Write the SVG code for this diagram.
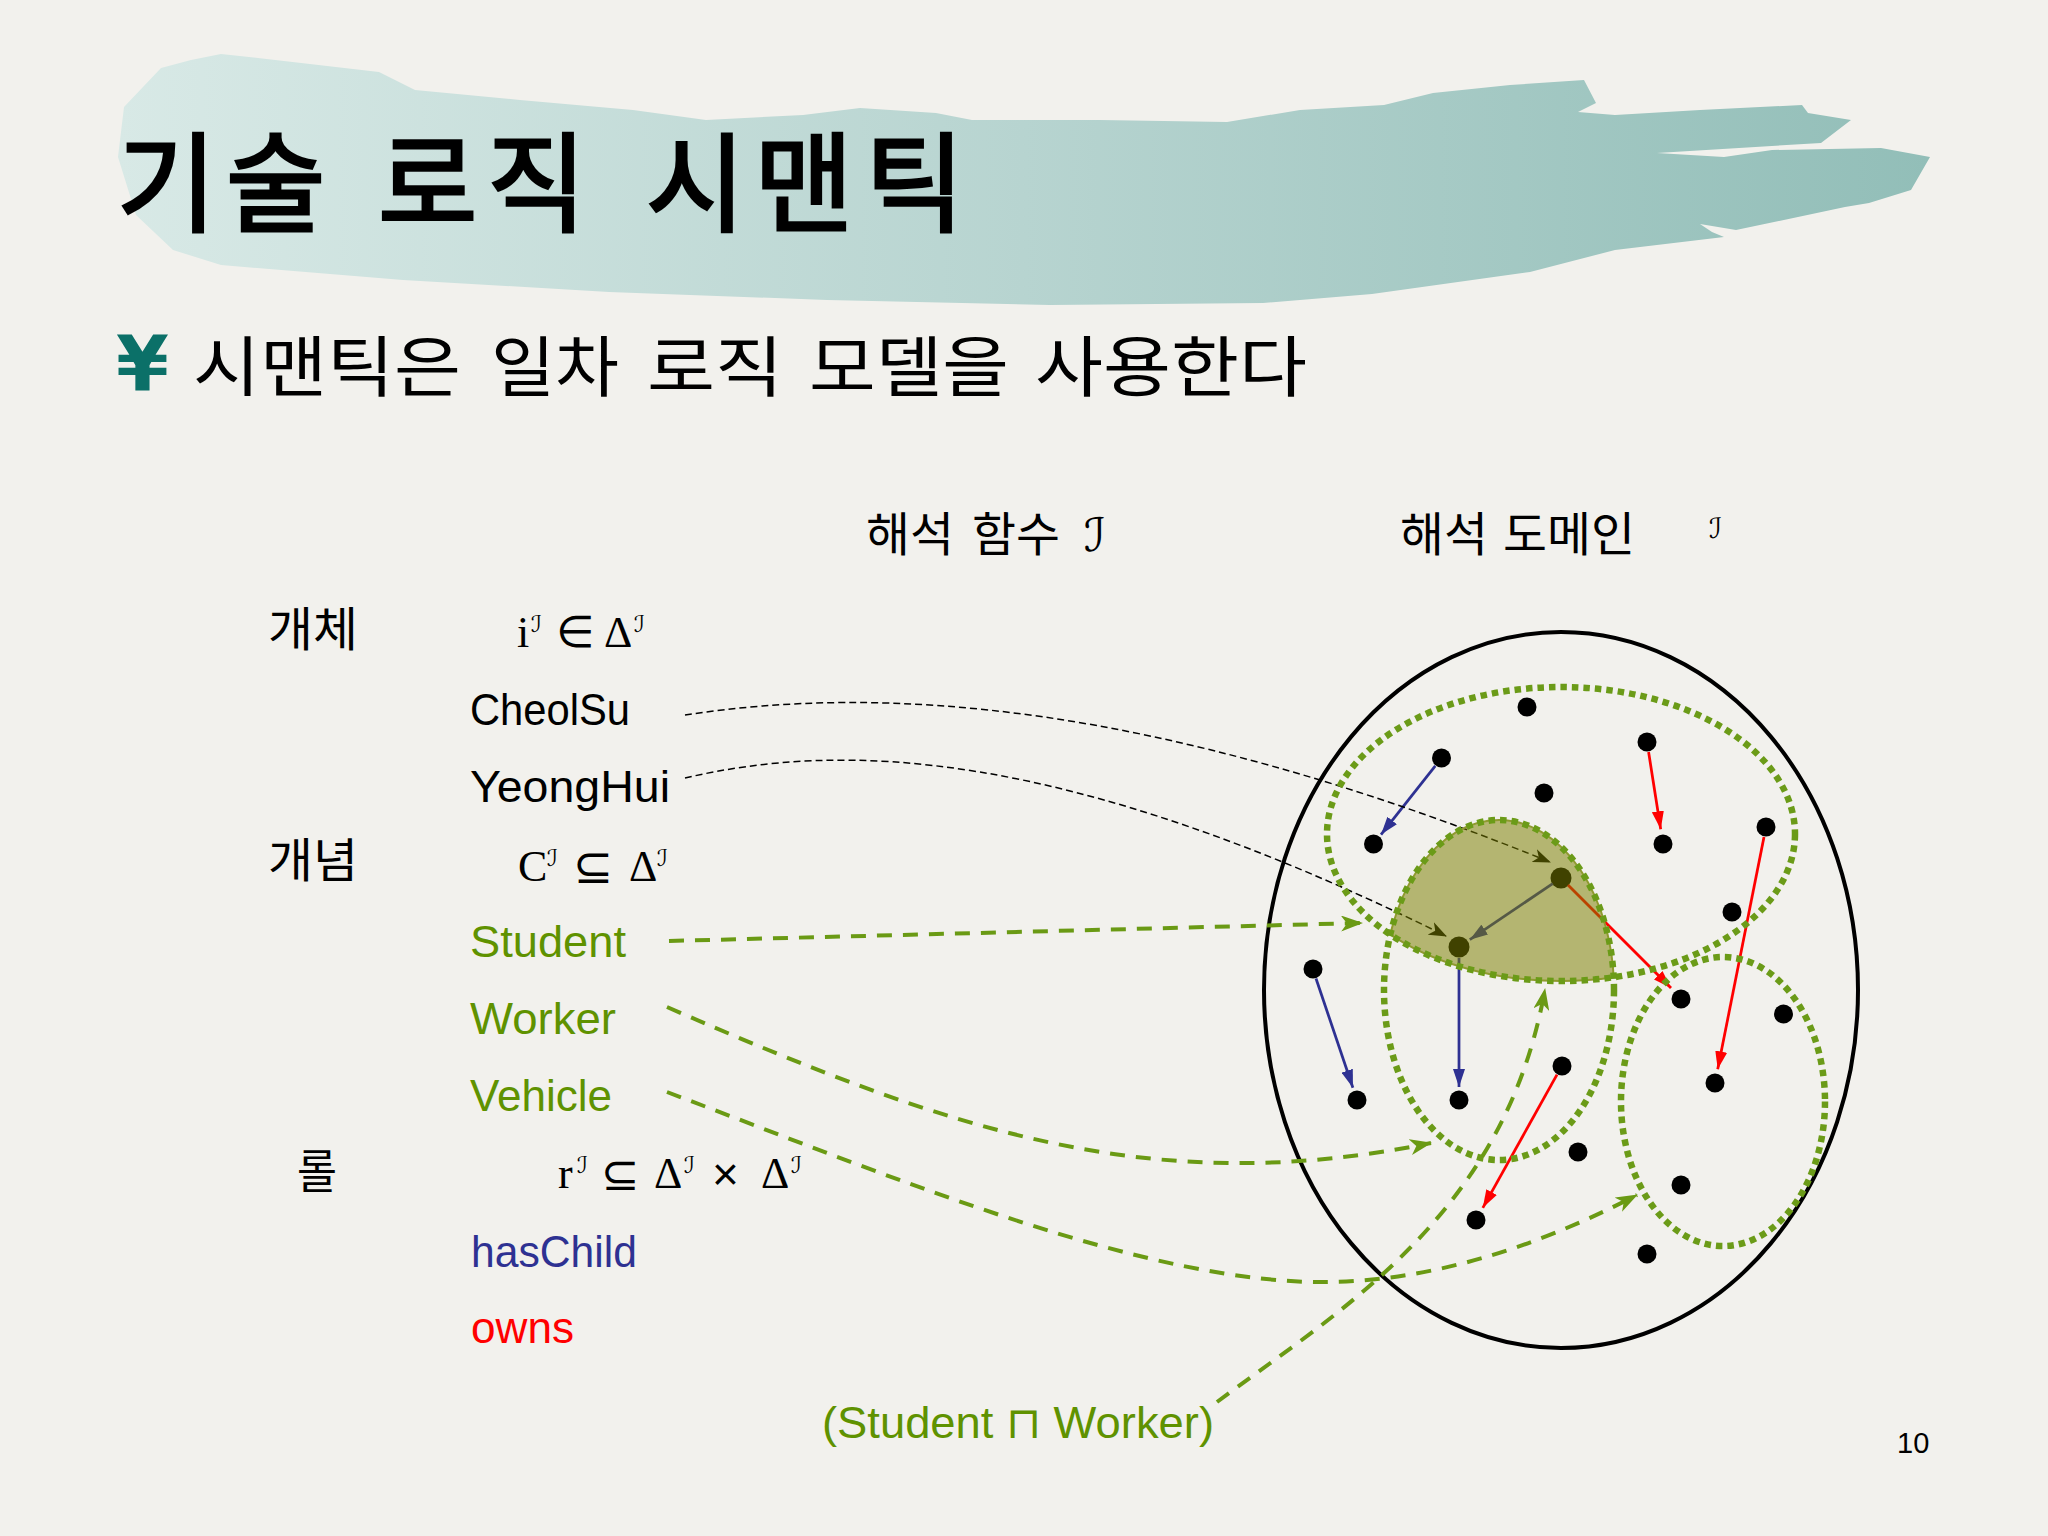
<svg xmlns="http://www.w3.org/2000/svg" width="2048" height="1536" viewBox="0 0 2048 1536">
<style>
.kr{font-family:"Noto Sans CJK KR","Noto Sans",sans-serif;fill:#000}
.lat{font-family:"Liberation Sans",Arial,sans-serif;font-size:44px}
.ser{font-family:"Liberation Serif","DejaVu Serif",serif;font-size:44px;fill:#000}
.sym{font-family:"DejaVu Sans",sans-serif;fill:#000}
.cal{font-family:"DejaVu Serif","DejaVu Sans",serif;font-style:italic;fill:#000}
.green{fill:#5f9200}
.dot{fill:#000}
.hc{stroke:#2e3192;stroke-width:2.75;fill:none}
.ow{stroke:#ff0000;stroke-width:2.75;fill:none}
.gd{stroke:#6a9a14;stroke-width:4;stroke-dasharray:15 11;fill:none}
.bd{stroke:#000;stroke-width:1.5;stroke-dasharray:7 4;fill:none}
.dotted{stroke:#6b9b18;stroke-width:6.5;stroke-dasharray:6.5 5;fill:none}
</style>
<defs>
<linearGradient id="brush" x1="0" y1="0" x2="1" y2="0">
<stop offset="0" stop-color="#d8e9e6"/>
<stop offset="0.5" stop-color="#b7d4d0"/>
<stop offset="1" stop-color="#92beb8"/>
</linearGradient>
<marker id="mBlue" markerUnits="userSpaceOnUse" markerWidth="18" markerHeight="12" refX="18" refY="6" orient="auto"><path d="M0,0 L18,6 L0,12 z" fill="#2e3192"/></marker>
<marker id="mRed" markerUnits="userSpaceOnUse" markerWidth="18" markerHeight="12" refX="18" refY="6" orient="auto"><path d="M0,0 L18,6 L0,12 z" fill="#ff0000"/></marker>
<marker id="mGreen" markerUnits="userSpaceOnUse" markerWidth="22" markerHeight="16" refX="21" refY="8" orient="auto"><path d="M0,0 L22,8 L0,16 L6,8 z" fill="#6a9a14"/></marker>
<marker id="mBlack" markerUnits="userSpaceOnUse" markerWidth="18" markerHeight="14" refX="17" refY="7" orient="auto"><path d="M0,0 L18,7 L0,14 L5,7 z" fill="#000"/></marker>
<clipPath id="clipA"><ellipse cx="1561" cy="834" rx="234" ry="147"/></clipPath>
<clipPath id="clipB"><ellipse cx="1499" cy="990" rx="115" ry="170"/></clipPath>
</defs>

<rect width="2048" height="1536" fill="#f2f1ed"/>

<g id="title">
<path d="M124,107 L161,68 L191,60 L221,54 L258,58 L379,72 L415,90 L520,100 L633,110 L706,120 L803,115 L860,108 L936,113 L972,120 L1100,120 L1227,122 L1300,110 L1384,105 L1433,93 L1510,85 L1584,80 L1596,103 L1578,112 L1615,115 L1700,110 L1802,105 L1808,113 L1851,120 L1821,143 L1657,153 L1724,157 L1772,150 L1881,148 L1930,157 L1911,190 L1869,203 L1845,207 L1736,230 L1700,224 L1712,232 L1724,237 L1615,250 L1530,272 L1372,294 L1263,303 L1050,305 L827,300 L609,292 L403,280 L221,265 L173,250 L136,215 L118,157 Z" fill="url(#brush)"/>
<text class="kr" font-size="108" y="223" stroke="#000" stroke-width="3"><tspan x="117 226">기술</tspan> <tspan x="378 487">로직</tspan> <tspan x="646 754 865">시맨틱</tspan></text>
</g>

<g id="subtitle">
<text x="116" y="391" font-family="DejaVu Sans,sans-serif" font-weight="bold" font-size="76" fill="#0b7068">¥</text>
<text class="kr" font-size="66" y="391"><tspan x="193" textLength="268" lengthAdjust="spacingAndGlyphs">시맨틱은</tspan><tspan x="491" textLength="128" lengthAdjust="spacingAndGlyphs">일차</tspan><tspan x="647" textLength="136" lengthAdjust="spacingAndGlyphs">로직</tspan><tspan x="809" textLength="200" lengthAdjust="spacingAndGlyphs">모델을</tspan><tspan x="1035" textLength="272" lengthAdjust="spacingAndGlyphs">사용한다</tspan></text>
</g>

<g id="headers">
<text class="kr" font-size="47" y="551"><tspan x="866" textLength="88" lengthAdjust="spacingAndGlyphs">해석</tspan></text>
<text class="kr" font-size="47" y="551"><tspan x="972" textLength="88" lengthAdjust="spacingAndGlyphs">함수</tspan></text>
<text class="cal" font-size="46" x="1084" y="551">ℐ</text>
<text class="kr" font-size="47" y="551"><tspan x="1400" textLength="88" lengthAdjust="spacingAndGlyphs">해석</tspan></text>
<text class="kr" font-size="47" y="551"><tspan x="1503" textLength="132" lengthAdjust="spacingAndGlyphs">도메인</tspan></text>
<text class="cal" font-size="28" x="1709" y="538">ℐ</text>
</g>

<g id="labels-left">
<text class="kr" font-size="47" x="268" y="646" textLength="90" lengthAdjust="spacingAndGlyphs">개체</text>
<text class="kr" font-size="47" x="268" y="877" textLength="90" lengthAdjust="spacingAndGlyphs">개념</text>
<text class="kr" font-size="47" x="297" y="1188" textLength="40" lengthAdjust="spacingAndGlyphs">롤</text>
</g>

<g id="formula-individual">
<text class="ser" x="517" y="647">i</text>
<text class="cal" font-size="23" x="531" y="632">ℐ</text>
<text class="sym" font-size="44" x="556" y="647">∈</text>
<text class="ser" x="604" y="647">Δ</text>
<text class="cal" font-size="23" x="634" y="632">ℐ</text>
</g>
<g id="formula-concept">
<text class="ser" x="518" y="881">C</text>
<text class="cal" font-size="23" x="547" y="866">ℐ</text>
<text class="sym" font-size="48" x="573" y="883">⊆</text>
<text class="ser" x="629" y="881">Δ</text>
<text class="cal" font-size="23" x="657" y="866">ℐ</text>
</g>
<g id="formula-role">
<text class="ser" x="558" y="1188">r</text>
<text class="cal" font-size="23" x="577" y="1173">ℐ</text>
<text class="sym" font-size="46" x="601" y="1190">⊆</text>
<text class="ser" x="654" y="1188">Δ</text>
<text class="cal" font-size="23" x="684" y="1173">ℐ</text>
<text class="lat" style="font-size:46px" x="712" y="1190">×</text>
<text class="ser" x="761" y="1188">Δ</text>
<text class="cal" font-size="23" x="791" y="1173">ℐ</text>
</g>

<g id="node-cheolsu"><text class="lat" x="470" y="725" textLength="160" lengthAdjust="spacingAndGlyphs">CheolSu</text></g>
<g id="node-yeonghui"><text class="lat" x="470" y="802" textLength="200" lengthAdjust="spacingAndGlyphs">YeongHui</text></g>
<g id="node-student"><text class="lat green" x="470" y="957" textLength="156" lengthAdjust="spacingAndGlyphs">Student</text></g>
<g id="node-worker"><text class="lat green" x="470" y="1034" textLength="146" lengthAdjust="spacingAndGlyphs">Worker</text></g>
<g id="node-vehicle"><text class="lat green" x="470" y="1111" textLength="142" lengthAdjust="spacingAndGlyphs">Vehicle</text></g>
<g id="node-haschild"><text class="lat" fill="#2e3192" x="471" y="1267" textLength="166" lengthAdjust="spacingAndGlyphs">hasChild</text></g>
<g id="node-owns"><text class="lat" fill="#ff0000" x="471" y="1343" textLength="103" lengthAdjust="spacingAndGlyphs">owns</text></g>
<g id="node-intersection"><text class="lat green" x="822" y="1438" textLength="392" lengthAdjust="spacingAndGlyphs">(Student ⊓ Worker)</text></g>
<g id="page-number"><text class="lat" style="font-size:29px" x="1897" y="1453">10</text></g>

<g id="domain">
<ellipse cx="1561" cy="990" rx="297" ry="358" fill="none" stroke="#000" stroke-width="4"/>
</g>

<g id="elements">
<circle class="dot" cx="1527" cy="707" r="9.5"/>
<circle class="dot" cx="1441.5" cy="758" r="9.5"/>
<circle class="dot" cx="1647" cy="742" r="9.5"/>
<circle class="dot" cx="1544" cy="793" r="9.5"/>
<circle class="dot" cx="1373.5" cy="844" r="9.5"/>
<circle class="dot" cx="1663" cy="844" r="9.5"/>
<circle class="dot" cx="1766" cy="827" r="9.5"/>
<circle class="dot" cx="1561" cy="878" r="10.5"/>
<circle class="dot" cx="1459" cy="947" r="10.5"/>
<circle class="dot" cx="1732" cy="912" r="9.5"/>
<circle class="dot" cx="1313" cy="969" r="9.5"/>
<circle class="dot" cx="1681" cy="999" r="9.5"/>
<circle class="dot" cx="1783.5" cy="1014" r="9.5"/>
<circle class="dot" cx="1562" cy="1066" r="9.5"/>
<circle class="dot" cx="1357" cy="1100" r="9.5"/>
<circle class="dot" cx="1459" cy="1100" r="9.5"/>
<circle class="dot" cx="1715" cy="1083" r="9.5"/>
<circle class="dot" cx="1578" cy="1152" r="9.5"/>
<circle class="dot" cx="1681" cy="1185" r="9.5"/>
<circle class="dot" cx="1476" cy="1220" r="9.5"/>
<circle class="dot" cx="1647" cy="1254" r="9.5"/>
</g>

<g id="connectors">
<line class="hc" x1="1435.3" y1="765.9" x2="1381" y2="834.6" marker-end="url(#mBlue)"/>
<line class="hc" x1="1316" y1="978.5" x2="1352.9" y2="1087.7" marker-end="url(#mBlue)"/>
<line class="hc" x1="1459" y1="958" x2="1459" y2="1087" marker-end="url(#mBlue)"/>
<line class="hc" x1="1552.7" y1="883.6" x2="1469.8" y2="939.7" marker-end="url(#mBlue)"/>
<line class="ow" x1="1648.6" y1="752" x2="1660.7" y2="829.2" marker-end="url(#mRed)"/>
<line class="ow" x1="1764" y1="837" x2="1717.7" y2="1069.3" marker-end="url(#mRed)"/>
<line class="ow" x1="1568" y1="885" x2="1671" y2="988" marker-end="url(#mRed)"/>
<line class="ow" x1="1557" y1="1074.7" x2="1482.8" y2="1207.8" marker-end="url(#mRed)"/>
<path class="bd" d="M685,715 C880,685 1150,700 1550,862" marker-end="url(#mBlack)"/>
<path class="bd" d="M685,778 C840,742 1060,745 1446,936" marker-end="url(#mBlack)"/>
</g>

<g id="intersection-region">
<ellipse cx="1499" cy="990" rx="115" ry="170" fill="#7a7e00" fill-opacity="0.52" clip-path="url(#clipA)"/>
<ellipse cx="1499" cy="990" rx="115" ry="170" fill="none" stroke="#8f9a30" stroke-width="2" clip-path="url(#clipA)"/>
<ellipse cx="1561" cy="834" rx="234" ry="147" fill="none" stroke="#8f9a30" stroke-width="2" clip-path="url(#clipB)"/>
</g>

<g id="concept-sets">
<ellipse class="dotted" cx="1561" cy="834" rx="234" ry="147"/>
<ellipse class="dotted" cx="1499" cy="990" rx="115" ry="170"/>
<ellipse class="dotted" cx="1723" cy="1101.5" rx="102" ry="144.5"/>
</g>

<g id="concept-connectors">
<path class="gd" d="M669,941 L1362,923" marker-end="url(#mGreen)"/>
<path class="gd" d="M667,1007 C950,1130 1150,1200 1431,1143" marker-end="url(#mGreen)"/>
<path class="gd" d="M667,1092 C900,1180 1150,1285 1330,1282 C1450,1280 1560,1235 1637,1195" marker-end="url(#mGreen)"/>
<path class="gd" d="M1217,1402 C1340,1310 1505,1215 1545,989" marker-end="url(#mGreen)"/>
</g>
</svg>
